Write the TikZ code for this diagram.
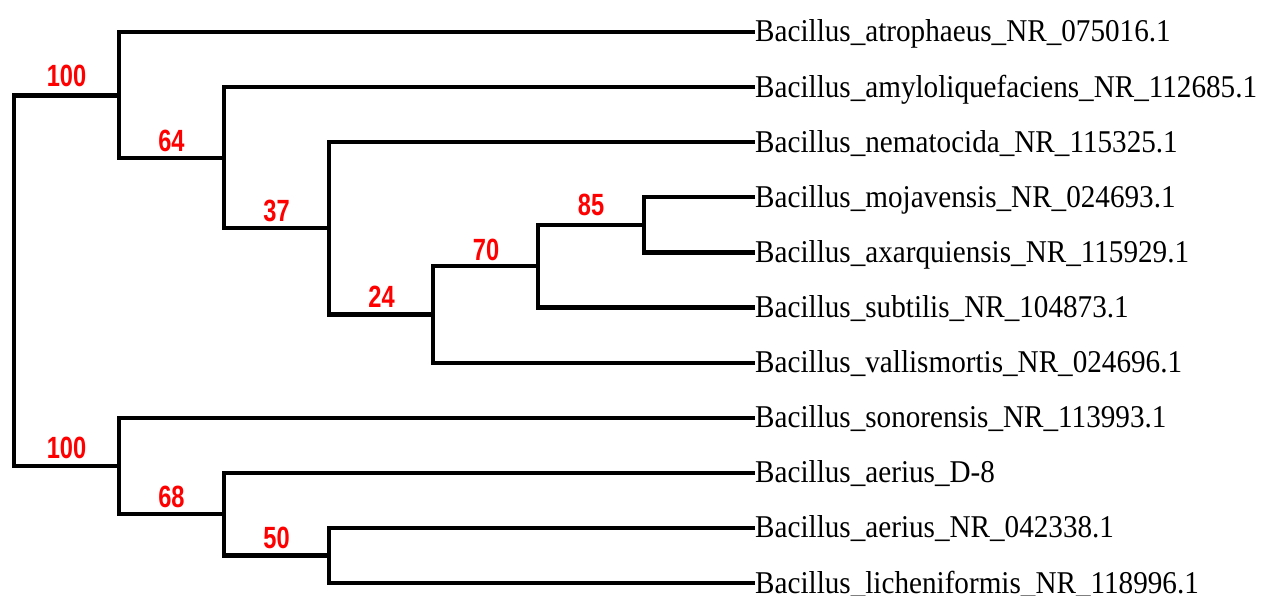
\documentclass[tikz,border=0pt]{standalone}
\usepackage{fontspec}
\setmainfont{Liberation Serif}
\newfontfamily\bsfont{Liberation Sans}
\tikzset{
  branch/.style={line width=4.2pt, line cap=rect, black},
  leaf/.style={anchor=base west, inner sep=0pt, font=\fontsize{31.7}{36}\selectfont},
  boot/.style={anchor=base, inner sep=0pt, text=red, font=\bsfont\bfseries\fontsize{30.7}{34}\selectfont},
}
\newcommand{\lbl}[1]{\scalebox{0.92}[1]{#1}}
\newcommand{\bsv}[1]{\scalebox{0.77}[1]{#1}}
\begin{document}
\begin{tikzpicture}[x=1pt,y=-1pt]
\useasboundingbox (0,0) rectangle (1263,596);
% leaf tips
\coordinate (L1) at (753,32);
\coordinate (L2) at (753,87.1);
\coordinate (L3) at (753,142.2);
\coordinate (L4) at (753,197.3);
\coordinate (L5) at (753,252.4);
\coordinate (L6) at (753,307.5);
\coordinate (L7) at (753,362.6);
\coordinate (L8) at (753,417.7);
\coordinate (L9) at (753,472.8);
\coordinate (L10) at (753,527.9);
\coordinate (L11) at (753,583);
% internal nodes
\coordinate (n85) at (644,224.85);
\coordinate (n70) at (538,266.2);
\coordinate (n24) at (433,314.4);
\coordinate (n37) at (329,228.3);
\coordinate (n64) at (224,157.7);
\coordinate (n100a) at (119,95.5);
\coordinate (n50) at (329,555.45);
\coordinate (n68) at (224,514.1);
\coordinate (n100b) at (119,465.9);
\coordinate (root) at (14,280.4);
% branches
\draw[branch] (root) |- (n100a);
\draw[branch] (root) |- (n100b);
\draw[branch] (n100a) |- (L1);
\draw[branch] (n100a) |- (n64);
\draw[branch] (n64) |- (L2);
\draw[branch] (n64) |- (n37);
\draw[branch] (n37) |- (L3);
\draw[branch] (n37) |- (n24);
\draw[branch] (n24) |- (n70);
\draw[branch] (n24) |- (L7);
\draw[branch] (n70) |- (n85);
\draw[branch] (n70) |- (L6);
\draw[branch] (n85) |- (L4);
\draw[branch] (n85) |- (L5);
\draw[branch] (n100b) |- (L8);
\draw[branch] (n100b) |- (n68);
\draw[branch] (n68) |- (L9);
\draw[branch] (n68) |- (n50);
\draw[branch] (n50) |- (L10);
\draw[branch] (n50) |- (L11);
% leaf labels
\node[leaf] (t1) at ([xshift=2pt,yshift=-10pt]L1) {\lbl{Bacillus\_atrophaeus\_NR\_075016.1}};
\node[leaf] (t2) at ([xshift=2pt,yshift=-10pt]L2) {\lbl{Bacillus\_amyloliquefaciens\_NR\_112685.1}};
\node[leaf] (t3) at ([xshift=2pt,yshift=-10pt]L3) {\lbl{Bacillus\_nematocida\_NR\_115325.1}};
\node[leaf] (t4) at ([xshift=2pt,yshift=-10pt]L4) {\lbl{Bacillus\_mojavensis\_NR\_024693.1}};
\node[leaf] (t5) at ([xshift=2pt,yshift=-10pt]L5) {\lbl{Bacillus\_axarquiensis\_NR\_115929.1}};
\node[leaf] (t6) at ([xshift=2pt,yshift=-10pt]L6) {\lbl{Bacillus\_subtilis\_NR\_104873.1}};
\node[leaf] (t7) at ([xshift=2pt,yshift=-10pt]L7) {\lbl{Bacillus\_vallismortis\_NR\_024696.1}};
\node[leaf] (t8) at ([xshift=2pt,yshift=-10pt]L8) {\lbl{Bacillus\_sonorensis\_NR\_113993.1}};
\node[leaf] (t9) at ([xshift=2pt,yshift=-10pt]L9) {\lbl{Bacillus\_aerius\_D-8}};
\node[leaf] (t10) at ([xshift=2pt,yshift=-10pt]L10) {\lbl{Bacillus\_aerius\_NR\_042338.1}};
\node[leaf] (t11) at ([xshift=2pt,yshift=-10pt]L11) {\lbl{Bacillus\_licheniformis\_NR\_118996.1}};
% bootstrap values
\node[boot] (b100a) at (66.5,87) {\bsv{100}};
\node[boot] (b64) at (171.5,152) {\bsv{64}};
\node[boot] (b37) at (276.5,222) {\bsv{37}};
\node[boot] (b24) at (381.5,307) {\bsv{24}};
\node[boot] (b70) at (486,260) {\bsv{70}};
\node[boot] (b85) at (591,215) {\bsv{85}};
\node[boot] (b100b) at (66.5,458) {\bsv{100}};
\node[boot] (b68) at (171.5,507) {\bsv{68}};
\node[boot] (b50) at (276.5,548) {\bsv{50}};
\end{tikzpicture}
\end{document}
